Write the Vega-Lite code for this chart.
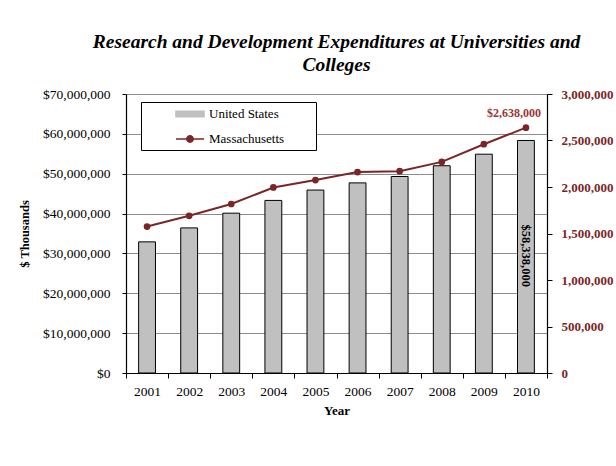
{
  "$schema": "https://vega.github.io/schema/vega-lite/v6.json",
  "width": 421,
  "height": 279,
  "autosize": {"type": "none"},
  "padding": {"left": 126, "top": 94, "right": 69, "bottom": 93},
  "background": "white",
  "config": {
    "font": "Liberation Serif",
    "view": {"stroke": null},
    "legend": {
      "orient": "none",
      "legendX": 15,
      "legendY": 8,
      "direction": "vertical",
      "strokeColor": "black",
      "fillColor": "white",
      "padding": 4,
      "symbolSize": 196,
      "symbolOffset": 37,
      "symbolStrokeWidth": 1.6,
      "labelOffset": 11,
      "rowPadding": 10,
      "labelFont": "Liberation Serif",
      "labelFontSize": 13,
      "labelColor": "black"
    }
  },
  "title": {
    "text": ["Research and Development Expenditures at Universities and", "Colleges"],
    "font": "Liberation Serif",
    "fontSize": 19.5,
    "fontStyle": "italic",
    "fontWeight": "bold",
    "color": "black",
    "anchor": "middle",
    "frame": "group",
    "lineHeight": 23,
    "offset": 12
  },
  "data": {
    "values": [
      {"year": "2001", "us": 32900000, "ma": 1575000},
      {"year": "2002", "us": 36400000, "ma": 1690000},
      {"year": "2003", "us": 40100000, "ma": 1817000},
      {"year": "2004", "us": 43300000, "ma": 1995000},
      {"year": "2005", "us": 45900000, "ma": 2075000},
      {"year": "2006", "us": 47700000, "ma": 2160000},
      {"year": "2007", "us": 49300000, "ma": 2170000},
      {"year": "2008", "us": 52000000, "ma": 2270000},
      {"year": "2009", "us": 54900000, "ma": 2460000},
      {"year": "2010", "us": 58338000, "ma": 2638000}
    ]
  },
  "encoding": {
    "x": {
      "field": "year",
      "type": "ordinal",
      "scale": {"paddingInner": 0, "paddingOuter": 0},
      "axis": {
        "title": "Year",
        "titleFont": "Liberation Serif",
        "titleFontSize": 13,
        "titleFontWeight": "bold",
        "titleColor": "black",
        "titlePadding": 7,
        "labelAngle": 0,
        "labelFont": "Liberation Serif",
        "labelFontSize": 13.5,
        "labelColor": "black",
        "labelPadding": 6,
        "tickBand": "extent",
        "tickSize": 5,
        "tickColor": "black",
        "domainColor": "black",
        "domainWidth": 1.2
      }
    }
  },
  "layer": [
    {
      "encoding": {
        "y": {
          "field": "us",
          "type": "quantitative",
          "scale": {"domain": [0, 70000000], "nice": false},
          "axis": {
            "title": "$ Thousands",
            "titleFont": "Liberation Serif",
            "titleFontSize": 12.5,
            "titleFontWeight": "bold",
            "titleColor": "black",
            "titlePadding": 11,
            "format": "$,.0f",
            "values": [0, 10000000, 20000000, 30000000, 40000000, 50000000, 60000000, 70000000],
            "labelFont": "Liberation Serif",
            "labelFontSize": 13.5,
            "labelColor": "black",
            "labelPadding": 12,
            "tickSize": 4,
            "tickColor": "black",
            "domainColor": "black",
            "domainWidth": 1.2,
            "grid": true,
            "gridColor": "#8c8c8c",
            "gridWidth": 1
          }
        }
      },
      "layer": [
        {
          "mark": {"type": "bar", "width": {"band": 0.4}, "stroke": "black", "strokeWidth": 1},
          "encoding": {
            "color": {
              "datum": "United States",
              "scale": {"domain": ["United States", "Massachusetts"], "range": ["#c0c0c0", "#7a2626"]}
            }
          }
        },
        {
          "transform": [{"filter": "datum.year == '2010'"}],
          "mark": {"type": "text", "angle": 90, "align": "left", "baseline": "middle", "dx": 84, "fontSize": 12.5, "fontWeight": "bold", "color": "black", "font": "Liberation Serif"},
          "encoding": {
            "text": {"field": "us", "type": "quantitative", "format": "$,.0f"}
          }
        }
      ]
    },
    {
      "encoding": {
        "y": {
          "field": "ma",
          "type": "quantitative",
          "scale": {"domain": [0, 3000000], "nice": false},
          "axis": {
            "orient": "right",
            "title": null,
            "format": ",.0f",
            "values": [0, 500000, 1000000, 1500000, 2000000, 2500000, 3000000],
            "labelFont": "Liberation Serif",
            "labelFontSize": 13,
            "labelFontWeight": "bold",
            "labelColor": "#7a2626",
            "labelPadding": 9,
            "tickSize": 5,
            "tickColor": "black",
            "domainColor": "black",
            "domainWidth": 1.2,
            "grid": false
          }
        }
      },
      "layer": [
        {
          "mark": {"type": "line", "strokeWidth": 2},
          "encoding": {
            "color": {
              "datum": "Massachusetts",
              "scale": {"domain": ["United States", "Massachusetts"], "range": ["#c0c0c0", "#7a2626"]}
            }
          }
        },
        {
          "mark": {"type": "point", "filled": true, "size": 45, "opacity": 1},
          "encoding": {
            "color": {
              "datum": "Massachusetts",
              "scale": {"domain": ["United States", "Massachusetts"], "range": ["#c0c0c0", "#7a2626"]}
            }
          }
        },
        {
          "transform": [{"filter": "datum.year == '2010'"}],
          "mark": {"type": "text", "align": "center", "baseline": "middle", "dx": -12, "dy": -15, "fontSize": 12, "fontWeight": "bold", "color": "#9b3535", "font": "Liberation Serif"},
          "encoding": {
            "text": {"field": "ma", "type": "quantitative", "format": "$,.0f"}
          }
        },
        {
          "transform": [{"filter": "false"}],
          "mark": {"type": "point", "filled": true, "opacity": 1},
          "encoding": {
            "color": {
              "datum": "Massachusetts",
              "scale": {"domain": ["United States", "Massachusetts"], "range": ["#c0c0c0", "#7a2626"]}
            },
            "shape": {
              "datum": "Massachusetts",
              "scale": {"domain": ["United States", "Massachusetts"], "range": ["M-2,-0.4H2V0.4H-2ZM16.9,0", "M-2,0H2M0.45,0A0.45,0.45 0 1 1 -0.45,0A0.45,0.45 0 1 1 0.45,0ZM16.9,0"]}
            }
          }
        }
      ]
    }
  ],
  "resolve": {"scale": {"y": "independent"}}
}
